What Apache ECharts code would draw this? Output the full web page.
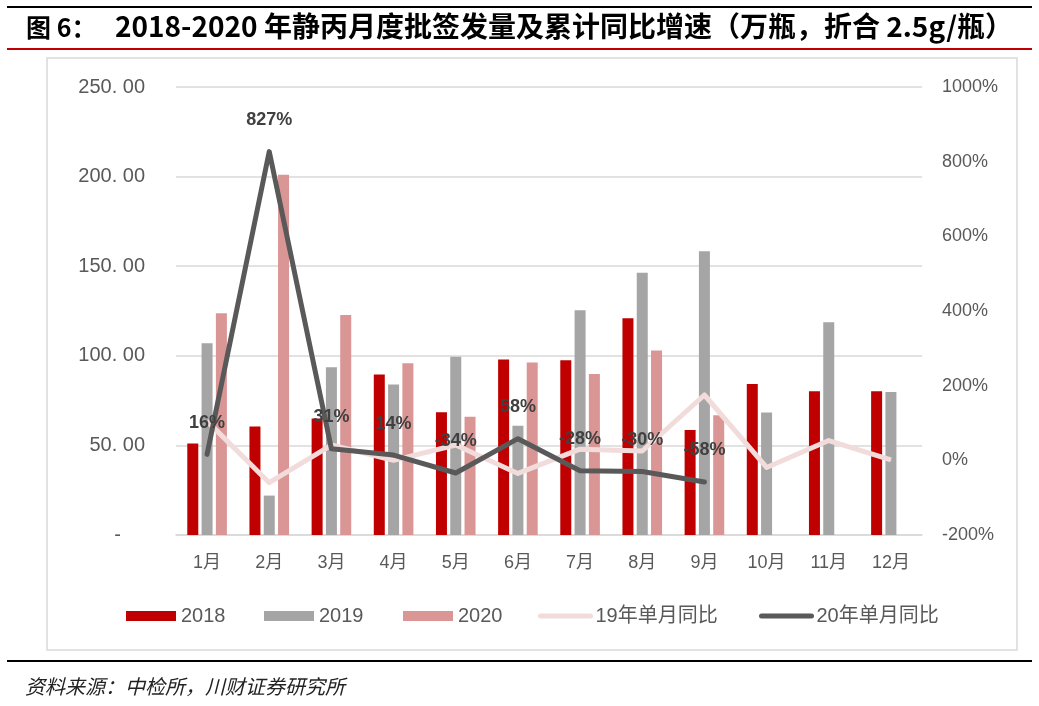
<!DOCTYPE html>
<html><head><meta charset="utf-8">
<script src="https://cdn.jsdelivr.net/npm/echarts@6/dist/echarts.min.js"></script>
<style>html,body{margin:0;padding:0;background:#fff}#c{width:1039px;height:706px}</style>
</head><body><div id="c"></div>
<script>
const months = ['1月','2月','3月','4月','5月','6月','7月','8月','9月','10月','11月','12月'];
const v2018 = [51, 60.6, 65, 89.5, 68.5, 98, 97.5, 121, 58.6, 84.3, 80.2, 80.2];
const v2019 = [107, 22, 93.6, 84, 99.5, 61, 125.4, 146.4, 158.3, 68.3, 118.7, 79.8];
const v2020 = [123.7, 201, 122.8, 95.8, 66, 96.2, 89.8, 103, 66.8, null, null, null];
const yoy19 = [105, -60, 41, 0, 41, -35, 30, 25, 175, -19, 53, 1];
const yoy20 = [16, 827, 31, 14, -34, 58, -28, -30, -58, null, null, null];
const leftTickLabels = ['-', '50. 00', '100. 00', '150. 00', '200. 00', '250. 00'];
const seriesNames = ['2018', '2019', '2020', '19年单月同比', '20年单月同比'];
const titleHead = '图 6：';
const titleBody = '2018-2020 年静丙月度批签发量及累计同比增速（万瓶，折合 2.5g/瓶）';
const sourceText = '资料来源：中检所，川财证券研究所';

const FONT = '"Liberation Sans", Arial, "Noto Sans CJK SC", sans-serif';
const AX = '#595959';
const chart = echarts.init(document.getElementById('c'), null, {renderer: 'canvas'});

function legendAt(left, name, isLine) {
  const l = {
    left: left, top: 601, itemWidth: 50, itemHeight: 10, itemGap: 0,
    data: [isLine ? {name: name, itemStyle: {opacity: 0}} : {name: name, icon: 'rect'}],
    textStyle: {fontSize: 20, color: AX, fontFamily: FONT},
    selectedMode: false
  };
  if (isLine) l.lineStyle = {width: 5, cap: 'round'};
  return l;
}

chart.setOption({
  animation: false,
  backgroundColor: '#fff',
  grid: {left: 176, right: 117, top: 87, bottom: 171, containLabel: false, outerBoundsMode: 'none'},
  legend: [
    legendAt(121, seriesNames[0], false),
    legendAt(259, seriesNames[1], false),
    legendAt(398, seriesNames[2], false),
    legendAt(533, seriesNames[3], true),
    legendAt(754, seriesNames[4], true)
  ],
  xAxis: {
    type: 'category', data: months,
    axisLine: {lineStyle: {color: '#d9d9d9', width: 1.5}},
    axisTick: {show: false},
    axisLabel: {color: AX, fontSize: 18, margin: 19, fontFamily: FONT}
  },
  yAxis: [
    {
      type: 'value', min: 0, max: 250, interval: 50,
      axisLine: {show: false}, axisTick: {show: false},
      splitLine: {lineStyle: {color: '#d9d9d9', width: 1.5}},
      axisLabel: {
        color: AX, fontSize: 20, margin: 31, fontFamily: FONT,
        formatter: function (v, i) { return i === 0 ? '{d|' + leftTickLabels[i] + '}' : leftTickLabels[i]; },
        rich: {d: {fontSize: 20, color: AX, padding: [0, 24, 0, 0], fontFamily: FONT}}
      }
    },
    {
      type: 'value', min: -200, max: 1000, interval: 200,
      axisLine: {show: false}, axisTick: {show: false}, splitLine: {show: false},
      axisLabel: {color: AX, fontSize: 18, margin: 20, fontFamily: FONT, formatter: v => v + '%'}
    }
  ],
  series: [
    {name: seriesNames[0], type: 'bar', data: v2018, barWidth: 11, barGap: '30%', itemStyle: {color: '#C00000'}},
    {name: seriesNames[1], type: 'bar', data: v2019, barWidth: 11, barGap: '30%', itemStyle: {color: '#A5A5A5'}},
    {name: seriesNames[2], type: 'bar', data: v2020, barWidth: 11, barGap: '30%', itemStyle: {color: '#D99694'}},
    {name: seriesNames[3], type: 'line', yAxisIndex: 1, data: yoy19, symbol: 'circle', symbolSize: 1,
      itemStyle: {color: '#F2DCDB'}, lineStyle: {color: '#F2DCDB', width: 5, join: 'round'}, z: 3},
    {name: seriesNames[4], type: 'line', yAxisIndex: 1, data: yoy20, symbol: 'circle', symbolSize: 1,
      itemStyle: {color: '#595959'}, lineStyle: {color: '#595959', width: 5, join: 'round', cap: 'round'}, z: 4,
      label: {show: true, position: 'top', distance: 22, formatter: p => p.value + '%',
        fontSize: 18, fontWeight: 'bold', color: '#404040', fontFamily: FONT}}
  ],
  graphic: [
    {type: 'line', shape: {x1: 7, y1: 7, x2: 1032, y2: 7}, style: {stroke: '#000', lineWidth: 2}},
    {type: 'text', left: 26, top: 15, style: {text: titleHead, font: 'bold 25px "Noto Sans CJK SC", sans-serif', fill: '#000'}},
    {type: 'text', left: 115, top: 12, style: {text: titleBody, font: 'bold 28px "Noto Sans CJK SC", sans-serif', fill: '#000'}},
    {type: 'line', shape: {x1: 7, y1: 49, x2: 1032, y2: 49}, style: {stroke: '#C00000', lineWidth: 2}},
    {type: 'rect', shape: {x: 47, y: 58, width: 970, height: 592}, style: {fill: 'none', stroke: '#d9d9d9', lineWidth: 1.5}, z: -10},
    {type: 'line', shape: {x1: 7, y1: 661, x2: 1032, y2: 661}, style: {stroke: '#000', lineWidth: 2}},
    {type: 'text', left: 25, top: 676, style: {text: sourceText, font: 'italic 20px "Noto Sans CJK SC", sans-serif', fill: '#222'}}
  ]
});
</script>
</body></html>
